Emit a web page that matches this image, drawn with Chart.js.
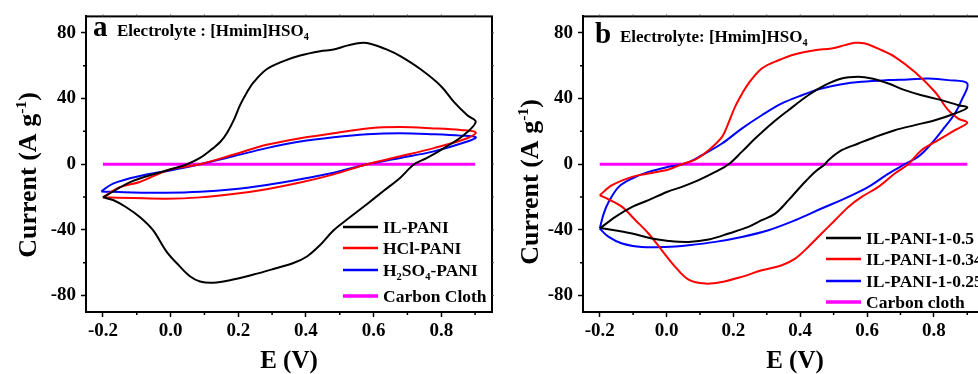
<!DOCTYPE html>
<html>
<head>
<meta charset="utf-8">
<script src="https://cdn.jsdelivr.net/npm/chart.js@4.4.1/dist/chart.umd.min.js"></script>
<style>
  html, body { margin: 0; padding: 0; background: #fff; overflow: hidden; width: 978px; height: 374px; }
  canvas { position: absolute; top: 0; }
  #chartA { left: 0; }
  #chartB { left: 495px; }
</style>
</head>
<body>
<canvas id="chartA" width="495" height="374"></canvas>
<canvas id="chartB" width="505" height="374"></canvas>
<script>
// ticks
const xMajor = [-0.2, 0, 0.2, 0.4, 0.6, 0.8]
const xMinor = [-0.1, 0.1, 0.3, 0.5, 0.7, 0.9]
const yMajor = [-80, -40, 0, 40, 80]
const yMinor = [-60, -20, 20, 60]

// panel a: [E (V), current (A/g)]
const ilPani = [
  [-0.2, -20.2], [-0.111, -10.2], [-0.002, -3.2], [0.047, -0.2], [0.087, 3.8], [0.126, 9.8],
  [0.148, 13.8], [0.168, 19.5], [0.187, 27], [0.205, 35.8], [0.225, 43.5], [0.245, 49.8],
  [0.284, 57.8], [0.334, 62.8], [0.383, 66.2],
  [0.442, 68.8], [0.482, 69.8], [0.521, 72.2], [0.561, 73.8], [0.59, 73.4], [0.64, 69.8],
  [0.679, 65.8], [0.739, 57.8], [0.798, 47.8], [0.838, 37.8], [0.877, 29.8], [0.902, 25.8],
  [0.867, 17.8], [0.808, 9.8], [0.758, 3.8], [0.719, -0.2], [0.679, -8.2], [0.63, -16.2],
  [0.581, -24.2], [0.531, -32.2], [0.482, -40.2], [0.442, -49.2], [0.403, -56.2], [0.363, -60.2],
  [0.304, -63.8], [0.245, -67.2], [0.185, -70.2], [0.126, -72.2], [0.087, -71.4], [0.057, -68.2],
  [0.027, -62.2], [-0.012, -53.2], [-0.052, -40.2], [-0.091, -32.2], [-0.131, -26.2], [-0.17, -21.8],
  [-0.2, -20.2]
]
const hclPani = [
  [-0.2, -20.2], [-0.15, -14], [-0.091, -10.8], [-0.002, -3.2], [0.087, 0], [0.185, 5.8],
  [0.284, 11.8], [0.383, 15.8], [0.482, 18.8], [0.581, 21.8], [0.679, 22.6], [0.778, 21.8],
  [0.857, 20.8], [0.902, 19.4], [0.877, 15.8], [0.778, 9.8], [0.679, 4.8], [0.581, 0],
  [0.482, -6.2], [0.383, -11.2], [0.284, -15.2], [0.185, -18.2], [0.087, -20.2], [-0.012, -21],
  [-0.111, -20.6], [-0.2, -20.2]
]
const h2so4Pani = [
  [-0.205, -16.6], [-0.17, -11.8], [-0.091, -7.2], [-0.002, -3.8], [0.087, 0], [0.185, 4.8],
  [0.284, 9.8], [0.383, 13.8], [0.482, 16.4], [0.581, 18.2], [0.679, 18.8], [0.778, 18.2],
  [0.857, 17.4], [0.902, 16.4], [0.877, 13.8], [0.778, 7.8], [0.679, 3.8], [0.581, 0],
  [0.482, -5.2], [0.383, -9.2], [0.284, -12.6], [0.185, -15.2], [0.087, -16.8], [-0.012, -17.4],
  [-0.111, -17.2], [-0.205, -16.6]
]
const carbonClothA = [[-0.2, 0], [0.9, 0]]

// panel b
const ilPani05 = [
  [-0.198, -38.8], [-0.153, -32.1], [-0.103, -26], [-0.054, -21.9], [0.001, -16.9], [0.046, -13.8],
  [0.096, -9.7], [0.146, -4.7], [0.186, 0], [0.225, 7.5], [0.265, 15.6], [0.315, 24.8],
  [0.365, 32.9], [0.424, 42], [0.474, 48.1], [0.524, 52.2], [0.574, 53.2], [0.614, 52.2],
  [0.664, 49.1], [0.713, 45.1], [0.763, 42], [0.823, 39], [0.873, 35.9], [0.9, 34.5],
  [0.863, 30.9], [0.803, 26.8], [0.743, 23.8], [0.683, 20.7], [0.624, 16.6], [0.574, 12.6],
  [0.524, 8.5], [0.484, 2.4], [0.474, 0], [0.444, -4.7], [0.405, -12.8], [0.365, -21.9],
  [0.325, -30.1], [0.285, -34.1], [0.245, -38.2], [0.186, -42.2], [0.126, -45.9], [0.066, -47.3],
  [0.006, -46.7], [-0.044, -45.3], [-0.103, -42.2], [-0.198, -38.8]
]
const ilPani034 = [
  [-0.2, -18.9], [-0.163, -12.8], [-0.103, -7.7], [-0.054, -5.7], [0.006, -3.2], [0.046, 0],
  [0.086, 2.8], [0.126, 8.5], [0.166, 16.6], [0.186, 25.5], [0.205, 34.9], [0.225, 42.5],
  [0.245, 49.1], [0.285, 58.3],
  [0.335, 63.3], [0.385, 67], [0.444, 69.4], [0.494, 70.5], [0.534, 72.5], [0.564, 73.9],
  [0.594, 73.5], [0.644, 69.4], [0.683, 65.4], [0.743, 56.2], [0.803, 44.1], [0.843, 32.9],
  [0.873, 27.8], [0.9, 25.2], [0.863, 20.7], [0.813, 14.6], [0.763, 8.5], [0.723, 0],
  [0.683, -5.7], [0.634, -13.8], [0.584, -19.9], [0.544, -26], [0.504, -34.1], [0.464, -42.2],
  [0.424, -50.4], [0.385, -57.5], [0.345, -61.5], [0.285, -64.6], [0.225, -68.6], [0.166, -71.7],
  [0.116, -72.7], [0.066, -70.3], [0.026, -62.5], [-0.014, -52.4], [-0.054, -42.2], [-0.093, -34.1],
  [-0.133, -26], [-0.173, -21.5], [-0.2, -18.9]
]
const ilPani025 = [
  [-0.2, -39.2], [-0.188, -30.1], [-0.173, -22.9], [-0.143, -13.8], [-0.103, -8.7], [-0.054, -4.7],
  [0.006, -1.6], [0.056, 0.4], [0.106, 5.5], [0.166, 12.6], [0.225, 21.7], [0.285, 29.8],
  [0.345, 37], [0.405, 42], [0.464, 46.1], [0.524, 48.7], [0.584, 50.2], [0.664, 51.2],
  [0.723, 51.6], [0.783, 52.2], [0.843, 51.2], [0.9, 49.1], [0.883, 39], [0.863, 30.9],
  [0.833, 22.7], [0.793, 12.6], [0.753, 4.5], [0.713, 0], [0.664, -5.7], [0.604, -13.8],
  [0.544, -19.9], [0.464, -27], [0.385, -34.1], [0.305, -40.2], [0.225, -44.3], [0.146, -47.3],
  [0.066, -49.3], [-0.004, -50.4], [-0.074, -50.4], [-0.133, -48.3], [-0.173, -44.3], [-0.2, -39.2]
]
const carbonClothB = [[-0.2, 0], [0.9, 0]]

const FONT = "'Liberation Serif', 'Times New Roman', serif"
const tickFont = { family: FONT, size: 19, weight: 'bold' }

function series(label, points, color, width) {
  return {
    label,
    data: points.map(p => ({ x: p[0], y: p[1] })),
    borderColor: color,
    backgroundColor: color,
    borderWidth: width || 2,
    showLine: true,
    pointRadius: 0,
    tension: 0.35
  }
}

// draws text pieces, pieces marked 'sub' or 'sup' smaller and shifted
function richText(ctx, parts, x, y, size) {
  let cx = x
  parts.forEach(([t, kind]) => {
    const s = kind ? size * 0.6 : size
    ctx.font = `bold ${s}px ${FONT}`
    const dy = kind === 'sub' ? size * 0.25 : kind === 'sup' ? -size * 0.4 : 0
    ctx.fillText(t, cx, y + dy)
    cx += ctx.measureText(t).width
  })
  return cx - x
}

function richWidth(ctx, parts, size) {
  let w = 0
  parts.forEach(([t, kind]) => {
    ctx.font = `bold ${kind ? size * 0.6 : size}px ${FONT}`
    w += ctx.measureText(t).width
  })
  return w
}

const framePlugin = {
  id: 'frame',
  afterDraw(chart) {
    const { ctx, chartArea: a, scales } = chart
    ctx.save()
    ctx.strokeStyle = '#000'
    ctx.lineWidth = 2
    ctx.strokeRect(a.left, a.top, a.right - a.left, a.bottom - a.top)
    // minor ticks, outward
    ctx.lineWidth = 1.5
    ctx.beginPath()
    xMinor.forEach(v => {
      const px = scales.x.getPixelForValue(v)
      ctx.moveTo(px, a.bottom)
      ctx.lineTo(px, a.bottom + 3)
    })
    yMinor.forEach(v => {
      const py = scales.y.getPixelForValue(v)
      ctx.moveTo(a.left, py)
      ctx.lineTo(a.left - 3, py)
    })
    ctx.stroke()
    // faint mirror ticks on the top and right edges
    ctx.lineWidth = 1
    ctx.strokeStyle = '#555'
    ctx.beginPath()
    xMajor.concat(xMinor).forEach(v => {
      const px = scales.x.getPixelForValue(v)
      ctx.moveTo(px, a.top)
      ctx.lineTo(px, a.top - 2)
    })
    yMajor.concat(yMinor).forEach(v => {
      const py = scales.y.getPixelForValue(v)
      ctx.moveTo(a.right, py)
      ctx.lineTo(a.right + 2, py)
    })
    ctx.stroke()
    ctx.restore()
  }
}

function textPlugin(opts) {
  return {
    id: 'texts',
    afterDraw(chart) {
      const { ctx } = chart
      ctx.save()
      ctx.fillStyle = '#000'
      ctx.textBaseline = 'alphabetic'
      ctx.textAlign = 'left'

      // panel letter and electrolyte note
      ctx.font = `bold ${opts.letterSize}px ${FONT}`
      ctx.fillText(opts.letter, opts.letterX, opts.letterY)
      richText(ctx, opts.note, opts.noteX, opts.noteY, 17)

      // axis titles
      const yTitle = [['Current (A g'], ['-1', 'sup'], [')']]
      const w = richWidth(ctx, yTitle, 26)
      ctx.save()
      ctx.translate(opts.yTitleX, opts.yTitleY)
      ctx.rotate(-Math.PI / 2)
      richText(ctx, yTitle, -w / 2, 0, 26)
      ctx.restore()

      ctx.font = `bold 25px ${FONT}`
      ctx.textAlign = 'center'
      ctx.fillText('E (V)', opts.xTitleX, 368)
      ctx.textAlign = 'left'

      // legend
      chart.data.datasets.forEach((ds, i) => {
        const y = opts.legendY[i]
        ctx.strokeStyle = ds.borderColor
        ctx.lineWidth = ds.borderWidth + 0.5
        ctx.beginPath()
        ctx.moveTo(opts.legendX, y)
        ctx.lineTo(opts.legendX + 35, y)
        ctx.stroke()
        richText(ctx, opts.legendText[i], opts.legendX + 40, y + 6, 17.5)
      })
      ctx.restore()
    }
  }
}

function makeChart(id, datasets, yWidth, padding, text) {
  return new Chart(document.getElementById(id), {
    type: 'scatter',
    data: { datasets },
    options: {
      responsive: false,
      animation: false,
      layout: { padding },
      plugins: { legend: { display: false }, tooltip: { enabled: false } },
      scales: {
        x: {
          type: 'linear', min: -0.25, max: 0.95,
          afterBuildTicks: s => { s.ticks = xMajor.map(v => ({ value: v })) },
          afterFit: s => { s.height = 62 },
          ticks: { color: '#000', font: tickFont, padding: 3, maxRotation: 0, autoSkip: false,
                   callback: v => v.toFixed(1) },
          grid: { drawOnChartArea: false, tickLength: 5, tickWidth: 1.5, tickColor: '#000' },
          border: { color: '#000', width: 2 }
        },
        y: {
          type: 'linear', min: -90, max: 90,
          afterBuildTicks: s => { s.ticks = yMajor.map(v => ({ value: v })) },
          afterFit: s => { s.width = yWidth },
          ticks: { color: '#000', font: tickFont, padding: 5, autoSkip: false },
          grid: { drawOnChartArea: false, tickLength: 5, tickWidth: 1.5, tickColor: '#000' },
          border: { color: '#000', width: 2 }
        }
      }
    },
    plugins: [framePlugin, textPlugin(text)]
  })
}

makeChart('chartA', [
  series('IL-PANI', ilPani, '#000000'),
  series('HCl-PANI', hclPani, '#ff0000'),
  series('H2SO4-PANI', h2so4Pani, '#0000ff'),
  series('Carbon Cloth', carbonClothA, '#ff00ff', 3)
], 86, { top: 13, right: 3, left: 0, bottom: 0 }, {
  letter: 'a', letterSize: 29, letterX: 93, letterY: 36,
  note: [['Electrolyte : [Hmim]HSO'], ['4', 'sub']], noteX: 117, noteY: 36,
  yTitleX: 36, yTitleY: 175, xTitleX: 289,
  legendX: 343, legendY: [227, 248, 270, 296],
  legendText: [[['IL-PANI']], [['HCl-PANI']], [['H'], ['2', 'sub'], ['SO'], ['4', 'sub'], ['-PANI']], [['Carbon Cloth']]]
})

makeChart('chartB', [
  series('IL-PANI-1-0.5', ilPani05, '#000000'),
  series('IL-PANI-1-0.34', ilPani034, '#ff0000'),
  series('IL-PANI-1-0.25', ilPani025, '#0000ff'),
  series('Carbon cloth', carbonClothB, '#ff00ff', 3)
], 88, { top: 16, right: 16, left: 0, bottom: 0 }, {
  letter: 'b', letterSize: 29, letterX: 100, letterY: 43,
  note: [['Electrolyte: [Hmim]HSO'], ['4', 'sub']], noteX: 125, noteY: 42,
  yTitleX: 43, yTitleY: 182, xTitleX: 300,
  legendX: 331, legendY: [238, 259, 281, 302],
  legendText: [[['IL-PANI-1-0.5']], [['IL-PANI-1-0.34']], [['IL-PANI-1-0.25']], [['Carbon cloth']]]
})
</script>
</body>
</html>
